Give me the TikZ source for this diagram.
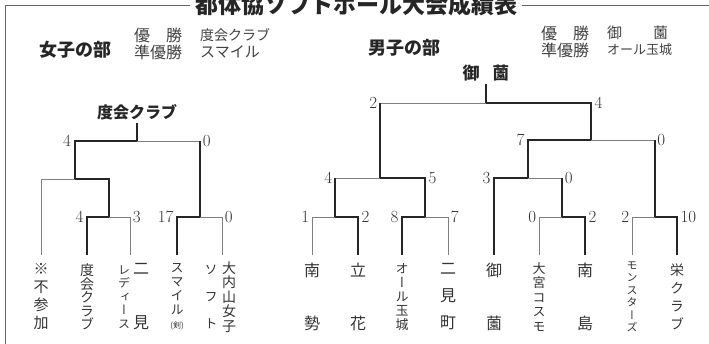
\documentclass[tikz,border=0pt]{standalone}
\usepackage{fontspec}
\newfontfamily\cjk{Noto Sans CJK JP}
\newfontfamily\cjkv[RawFeature=+vert]{Noto Sans CJK JP}
\newcommand\vfs[2]{\cjkv\fontsize{#1}{#2}\selectfont}
\newcommand\hfs[1]{\cjk\fontsize{#1}{#1}\selectfont}
\tikzset{
  frame/.style={draw=black!60, line width=0.8pt},
  lose/.style={draw=black!50, line width=0.7pt},
  win/.style={draw=black!85, line width=2pt},
  pt/.style={font=\fontsize{17}{17}\selectfont, text=black!80, inner sep=2.5pt},
  team/.style={align=center, inner sep=0pt, text=black!80},
  head/.style={font=\hfs{18}\bfseries, text=black!85, inner sep=0pt},
  res/.style={text=black!75, inner sep=0pt},
  champ/.style={font=\hfs{16}\bfseries, text=black!85, inner sep=3pt},
}
\begin{document}
\begin{tikzpicture}[x=1pt, y=-1pt]
\useasboundingbox (0,0) rectangle (709,344);

\coordinate (tl) at (5,5);
\coordinate (bl) at (5,344);
\coordinate (tr) at (709,5);
\node[font=\hfs{23}\bfseries, text=black!85, inner sep=5pt] (ttl) at (356,5) {都体協ソフトボール大会成績表};
\draw[frame] (bl) -- (tl) -- (ttl.west);
\draw[frame] (ttl.east) -- (tr);

\node[head] (whead) at (75,50) {女子の部};
\node[res, font=\hfs{16}] (wwon) at (158,35) {優　勝};
\node[res, font=\hfs{16}] (wsec) at (158,52) {準優勝};
\node[res, font=\hfs{14}, anchor=west] (wwonn) at (200,35) {度会クラブ};
\node[res, font=\hfs{15}, anchor=west] (wsecn) at (200,52) {スマイル};

\node[head] (mhead) at (404,48) {男子の部};
\node[res, font=\hfs{16}] (mwon) at (565,33) {優　勝};
\node[res, font=\hfs{16}] (msec) at (565,50) {準優勝};
\node[res, font=\hfs{15}, anchor=west] (mwonn) at (607,33) {御\hspace{31pt}薗};
\node[res, font=\hfs{13}, anchor=west] (msecn) at (607,50) {オール玉城};

\node[champ] (wwin) at (137,112) {度会クラブ};
\node[champ, font=\hfs{17}\bfseries] (mwin) at (486,73) {御\hspace{13pt}薗};

\coordinate (wa) at (41,255);
\coordinate (wb) at (87,255);
\coordinate (wc) at (130,255);
\coordinate (wd) at (177,255);
\coordinate (we) at (222,255);
\coordinate (wm1) at (108.5,217);
\coordinate (wm2) at (74.5,179);
\coordinate (wm3) at (200,217);
\coordinate (wfin) at (137,141);

\node[team, font=\vfs{15}{18}] (wA) at (41,297) {※\\不\\参\\加};
\node[team, font=\vfs{14}{13.5}] (wB) at (87,297) {度\\会\\ク\\ラ\\ブ};
\node[team, font=\vfs{16}{54}] (wC) at (141,297) {二\\見};
\node[team, font=\vfs{12}{13.5}] (wCb) at (124,297) {レ\\デ\\ィ\\ー\\ス};
\node[team, font=\vfs{13}{14}] (wD) at (177,297) {ス\\マ\\イ\\ル\\{\hfs{8}(剣)}};
\node[team, font=\vfs{14}{14.5}] (wE) at (229,297) {大\\内\\山\\女\\子};
\node[team, font=\vfs{13}{27}] (wEb) at (211,297) {ソ\\フ\\ト};

\draw[lose] (wa) |- (wm2);
\draw[lose] (wc) |- node[pt,right] (ws2) {3} (wm1);
\draw[lose] (we) |- node[pt,right] (ws4) {0} (wm3);
\draw[lose] (wm3) |- node[pt,right] (ws6) {0} (wfin);
\draw[win] (wm3) -- (wm3 |- wfin);
\draw[win] (wb) |- node[pt,left] (ws1) {4} (wm1);
\draw[win] (wd) |- node[pt,left] (ws3) {17} (wm3);
\draw[win] (wm1) |- (wm2);
\draw[win] (wm2) |- node[pt,left] (ws5) {4} (wfin);
\draw[win] (wfin) -- (wwin);

\coordinate (ma) at (312,255);
\coordinate (mb) at (358,255);
\coordinate (mc) at (402,255);
\coordinate (md) at (448,255);
\coordinate (me) at (494,255);
\coordinate (mf) at (539,255);
\coordinate (mg) at (585,255);
\coordinate (mh) at (632,255);
\coordinate (mi) at (677,255);
\coordinate (mm1) at (335,217);
\coordinate (mm2) at (425,217);
\coordinate (mm3) at (380,178);
\coordinate (mm4) at (562,217);
\coordinate (mm5) at (528,178);
\coordinate (mm6) at (654.5,217);
\coordinate (mm7) at (591,140);
\coordinate (mfin) at (486,103);

\node[team, font=\vfs{16}{53}] (mA) at (312,297) {南\\勢};
\node[team, font=\vfs{16}{53}] (mB) at (358,297) {立\\花};
\node[team, font=\vfs{13}{14}] (mC) at (402,297) {オ\\ー\\ル\\玉\\城};
\node[team, font=\vfs{16}{27}] (mD) at (448,297) {二\\見\\町};
\node[team, font=\vfs{16}{53}] (mE) at (494,297) {御\\薗};
\node[team, font=\vfs{13}{14.5}] (mF) at (539,297) {大\\宮\\コ\\ス\\モ};
\node[team, font=\vfs{16}{53}] (mG) at (585,297) {南\\島};
\node[team, font=\vfs{11}{12.5}] (mH) at (632,297) {モ\\ン\\ス\\タ\\ー\\ズ};
\node[team, font=\vfs{14}{18}] (mI) at (677,297) {栄\\ク\\ラ\\ブ};

\draw[lose] (ma) |- node[pt,left] (ms1) {1} (mm1);
\draw[lose] (md) |- node[pt,right] (ms4) {7} (mm2);
\draw[lose] (mm1) |- node[pt,left] (ms5) {4} (mm3);
\draw[lose] (mf) |- node[pt,left] (ms7) {0} (mm4);
\draw[lose] (mm4) |- node[pt,right] (ms10) {0} (mm5);
\draw[lose] (mh) |- node[pt,left] (ms11) {2} (mm6);
\draw[lose] (mm6) |- node[pt,right] (ms14) {0} (mm7);
\draw[lose] (mm3) |- node[pt,left] (ms15) {2} (mfin);
\draw[win] (mm1) -- (mm1 |- mm3);
\draw[win] (mm4) -- (mm4 |- mm5);
\draw[win] (mm6) -- (mm6 |- mm7);
\draw[win] (mm3) -- (mm3 |- mfin);
\draw[win] (mb) |- node[pt,right] (ms2) {2} (mm1);
\draw[win] (mc) |- node[pt,left] (ms3) {8} (mm2);
\draw[win] (mm2) |- node[pt,right] (ms6) {5} (mm3);
\draw[win] (mg) |- node[pt,right] (ms8) {2} (mm4);
\draw[win] (me) |- node[pt,left] (ms9) {3} (mm5);
\draw[win] (mi) |- node[pt,right] (ms12) {10} (mm6);
\draw[win] (mm5) |- node[pt,left] (ms13) {7} (mm7);
\draw[win] (mm7) |- node[pt,right] (ms16) {4} (mfin);
\draw[win] (mfin) -- (mwin);
\end{tikzpicture}
\end{document}
